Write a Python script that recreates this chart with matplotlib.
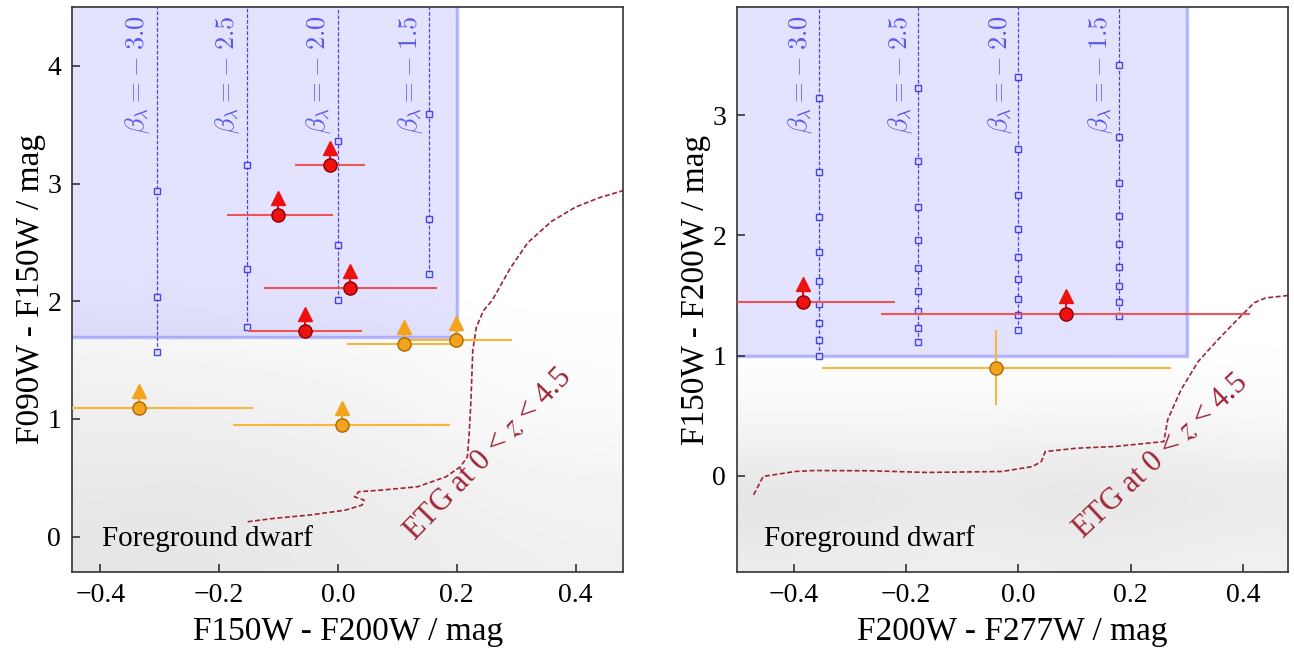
import numpy as np
import matplotlib.pyplot as plt
from matplotlib.patches import Rectangle
from matplotlib.transforms import blended_transform_factory

plt.rcParams['font.family'] = ['Liberation Serif', 'DejaVu Serif']
plt.rcParams['mathtext.fontset'] = 'stix'

beta_values = [-3.0, -2.5, -2.0, -1.5]

# ---- left panel: F150W-F200W vs F090W-F150W
left_beta_x = [-0.305, -0.153, 0.0, 0.154]
left_beta_y = [[2.94, 2.04, 1.57],
               [3.16, 2.27, 1.78],
               [3.36, 2.48, 2.01],
               [3.59, 2.70, 2.23]]

left_red_x = [-0.013, -0.100, 0.020, -0.055]
left_red_y = [3.16, 2.73, 2.115, 1.745]
left_red_xlo = [-0.072, -0.187, -0.125, -0.151]
left_red_xhi = [0.046, -0.008, 0.167, 0.040]

left_orange_x = [0.112, 0.199, -0.334, 0.007]
left_orange_y = [1.634, 1.675, 1.09, 0.953]
left_orange_xlo = [0.016, 0.11, -0.50, -0.176]
left_orange_xhi = [0.19, 0.293, -0.143, 0.189]

left_etg_x = [-0.152, -0.107, -0.047, 0.013, 0.041, 0.044, 0.028, 0.035, 0.074,
              0.134, 0.182, 0.206, 0.218, 0.221, 0.224, 0.227, 0.233, 0.245,
              0.26, 0.29, 0.32, 0.36, 0.40, 0.44, 0.48]
left_etg_y = [0.127, 0.156, 0.184, 0.226, 0.269, 0.311, 0.339, 0.382, 0.396,
              0.424, 0.509, 0.594, 0.679, 0.877, 1.16, 1.58, 1.78, 1.92,
              2.01, 2.28, 2.50, 2.68, 2.80, 2.88, 2.94]

# dwarf star density (0 = none), rows from bottom, extent below
left_dwarf = [[0.55, 0.50, 0.45, 0.40, 0.35, 0.32],
              [0.50, 0.52, 0.42, 0.38, 0.32, 0.28],
              [0.45, 0.48, 0.40, 0.35, 0.28, 0.25],
              [0.40, 0.40, 0.35, 0.30, 0.22, 0.18],
              [0.35, 0.33, 0.30, 0.25, 0.15, 0.12],
              [0.30, 0.28, 0.25, 0.20, 0.10, 0.07],
              [0.22, 0.20, 0.18, 0.15, 0.07, 0.05],
              [0.12, 0.10, 0.08, 0.06, 0.03, 0.02],
              [0.03, 0.02, 0.02, 0.01, 0.00, 0.00]]
left_dwarf_extent = (-0.45, 0.48, -0.3, 2.3)

# ---- right panel: F200W-F277W vs F150W-F200W
right_beta_x = [-0.355, -0.178, 0.0, 0.179]
right_beta_y = [[3.14, 2.53, 2.15, 1.86, 1.62, 1.43, 1.27, 1.13, 1.00],
                [3.23, 2.62, 2.24, 1.96, 1.73, 1.54, 1.375, 1.23, 1.11],
                [3.32, 2.72, 2.34, 2.05, 1.82, 1.64, 1.47, 1.34, 1.21],
                [3.42, 2.82, 2.44, 2.16, 1.93, 1.74, 1.58, 1.45, 1.33]]

right_red_x = [-0.384, 0.085]
right_red_y = [1.45, 1.348]
right_red_xlo = [-0.52, -0.245]
right_red_xhi = [-0.220, 0.413]

right_orange_x = [-0.039]
right_orange_y = [0.896]
right_orange_xlo = [-0.350]
right_orange_xhi = [0.271]
right_orange_ylo = [0.59]
right_orange_yhi = [1.215]

right_etg_x = [-0.471, -0.454, -0.397, -0.364, -0.263, -0.163, -0.029, 0.025,
               0.041, 0.048, 0.105, 0.172, 0.259, 0.266, 0.29, 0.32, 0.345,
               0.365, 0.39, 0.42, 0.44, 0.48]
right_etg_y = [-0.158, -0.005, 0.036, 0.044, 0.042, 0.028, 0.036, 0.077,
               0.119, 0.202, 0.230, 0.244, 0.285, 0.47, 0.72, 0.95, 1.08,
               1.18, 1.30, 1.44, 1.48, 1.50]

right_dwarf = [[0.40, 0.38, 0.35, 0.35, 0.38, 0.35, 0.30],
               [0.55, 0.50, 0.42, 0.45, 0.50, 0.45, 0.40],
               [0.50, 0.50, 0.45, 0.45, 0.50, 0.45, 0.40],
               [0.30, 0.30, 0.28, 0.30, 0.35, 0.30, 0.25],
               [0.15, 0.15, 0.15, 0.15, 0.18, 0.15, 0.12],
               [0.06, 0.06, 0.06, 0.06, 0.06, 0.05, 0.04],
               [0.02, 0.02, 0.02, 0.02, 0.02, 0.02, 0.01]]
right_dwarf_extent = (-0.5, 0.48, -0.8, 1.3)

RED = '#ee1111'
ORANGE = '#f4a31c'
BLUE = '#2a2ae0'
ETG_COLOR = '#9e2435'


def draw_dwarfs(ax, dens, extent):
    gray = 1.0 - 0.19 * np.array(dens)
    ax.imshow(gray, cmap='gray', vmin=0, vmax=1, origin='lower', extent=extent,
              interpolation='bicubic', aspect='auto', zorder=0)


def draw_box(ax, x0, x1, y0, y1):
    ax.add_patch(Rectangle((x0, y0), x1 - x0, y1 - y0, facecolor=(0, 0, 1, 0.11),
                           edgecolor=(0.2, 0.2, 1, 0.3), lw=2.5, zorder=1))


def draw_tracks(ax, xs, ys, top):
    trans = blended_transform_factory(ax.transData, ax.transAxes)
    for b, x, y in zip(beta_values, xs, ys):
        ax.plot([x, x], [min(y), top], ls=(0, (3, 1.5)), color=BLUE, lw=0.9,
                alpha=0.85, zorder=2)
        ax.plot([x] * len(y), y, 's', ms=4, mfc='#e4e4ff', mec=BLUE, mew=1,
                alpha=0.85, zorder=2)
        ax.text(x - 0.032, 0.985, r'$\beta_\lambda = -\;%.1f$' % abs(b),
                transform=trans, rotation=90, ha='center', va='top',
                fontsize=19, color='#5858ee', math_fontfamily='cm')


def draw_points(ax, x, y, xlo, xhi, color, edge, barcolor, arrow=True, ylo=None, yhi=None):
    x = np.array(x)
    y = np.array(y)
    xerr = [x - np.array(xlo), np.array(xhi) - x]
    yerr = None
    if ylo is not None:
        yerr = [y - np.array(ylo), np.array(yhi) - y]
    ax.errorbar(x, y, xerr=xerr, yerr=yerr, fmt='none', ecolor=barcolor, elinewidth=1.5,
                capsize=0, zorder=3)
    if arrow:
        dy = 17 / 118.0
        for xi, yi in zip(x, y):
            ax.plot([xi, xi], [yi, yi + dy * 0.8], color=color, lw=1.5, zorder=3)
        ax.plot(x, y + dy, '^', ms=10, color=color, mec=color, zorder=4)
    ax.plot(x, y, 'o', ms=9.5, mfc=color, mec=edge, mew=1, zorder=5)


def style_axes(ax, xlim, ylim, xticks, yticks, xlabel, ylabel):
    ax.set_xlim(*xlim)
    ax.set_ylim(*ylim)
    ax.set_xticks(xticks)
    ax.set_yticks(yticks)
    ax.set_xticklabels([('%.1f' % t).replace('-', '\u2212') for t in xticks])
    ax.tick_params(direction='in', length=6, width=1.2, labelsize=20, pad=8,
                   color='#333333')
    for s in ax.spines.values():
        s.set_color('#333333')
        s.set_linewidth(1.2)
    ax.set_xlabel(xlabel, fontsize=24, labelpad=6)
    ax.set_ylabel(ylabel, fontsize=24)
    # right edge of the rotated label
    ax.yaxis.set_label_coords(-0.047, 0.5)


fig = plt.figure(figsize=(12.94, 6.48), dpi=100)
ax1 = fig.add_axes([0.0559, 0.1173, 0.4256, 0.8719])
ax2 = fig.add_axes([0.5698, 0.1173, 0.4256, 0.8719])

# left panel
draw_dwarfs(ax1, left_dwarf, left_dwarf_extent)
draw_box(ax1, -0.6, 0.2, 1.7, 5.0)
draw_tracks(ax1, left_beta_x, left_beta_y, 5.0)
ax1.plot(left_etg_x, left_etg_y, ls=(0, (3, 1.5)), color=ETG_COLOR, lw=1.2, zorder=2)
draw_points(ax1, left_orange_x, left_orange_y, left_orange_xlo, left_orange_xhi,
            ORANGE, '#a86a00', '#f6b640')
draw_points(ax1, left_red_x, left_red_y, left_red_xlo, left_red_xhi,
            RED, '#8a0000', '#ee5555')
ax1.text(0.054, 0.06, 'Foreground dwarf', transform=ax1.transAxes, fontsize=21,
         ha='left', va='center')
ax1.text(0.755, 0.207, r'ETG at 0 < $z$ < 4.5', transform=ax1.transAxes, fontsize=22,
         rotation=46, color=ETG_COLOR, ha='center', va='center')
style_axes(ax1, (-0.447, 0.48), (-0.3, 4.5), [-0.4, -0.2, 0.0, 0.2, 0.4],
           [0, 1, 2, 3, 4], 'F150W - F200W / mag', 'F090W - F150W / mag')

# right panel
draw_dwarfs(ax2, right_dwarf, right_dwarf_extent)
draw_box(ax2, -0.6, 0.3, 1.0, 5.0)
draw_tracks(ax2, right_beta_x, right_beta_y, 5.0)
ax2.plot(right_etg_x, right_etg_y, ls=(0, (3, 1.5)), color=ETG_COLOR, lw=1.2, zorder=2)
draw_points(ax2, right_orange_x, right_orange_y, right_orange_xlo, right_orange_xhi,
            ORANGE, '#a86a00', '#f6b640', arrow=False,
            ylo=right_orange_ylo, yhi=right_orange_yhi)
draw_points(ax2, right_red_x, right_red_y, right_red_xlo, right_red_xhi,
            RED, '#8a0000', '#ee5555')
ax2.text(0.048, 0.06, 'Foreground dwarf', transform=ax2.transAxes, fontsize=21,
         ha='left', va='center')
ax2.text(0.768, 0.205, r'ETG at 0 < $z$ < 4.5', transform=ax2.transAxes, fontsize=22,
         rotation=43, color=ETG_COLOR, ha='center', va='center')
style_axes(ax2, (-0.5, 0.48), (-0.8, 3.9), [-0.4, -0.2, 0.0, 0.2, 0.4],
           [0, 1, 2, 3], 'F200W - F277W / mag', 'F150W - F200W / mag')

fig.savefig('out.png', dpi=100)
